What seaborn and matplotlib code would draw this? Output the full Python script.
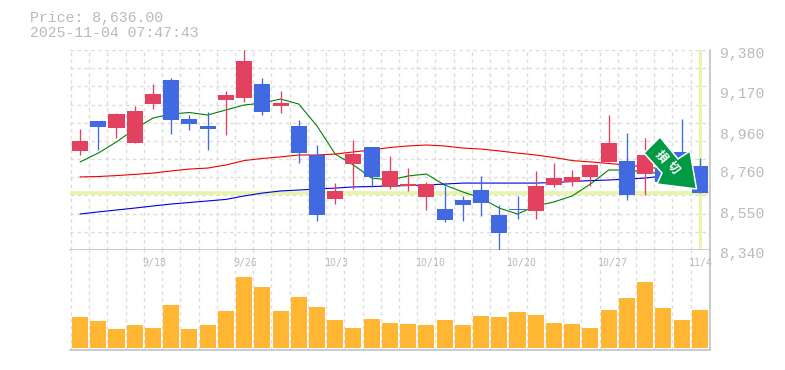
# -*- coding: utf-8 -*-
import matplotlib
matplotlib.use("Agg")
import matplotlib.pyplot as plt
from matplotlib.patches import Polygon
from matplotlib.transforms import Affine2D, ScaledTranslation
import seaborn as sns
import pandas as pd
import numpy as np

sns.set_theme(style="white")
plt.rcParams['font.family'] = ['Liberation Mono', 'Noto Sans CJK JP', 'DejaVu Sans']

title_price = "Price: 8,636.00"
title_time = "2025-11-04 07:47:43"

opens = [8855, 9011, 8974, 8896, 9099, 9224, 9021, 8985, 9120, 9130, 9203, 9089,
         8985, 8834, 8605, 8787, 8876, 8668, 8673, 8616, 8553, 8600, 8652, 8522,
         8553, 8543, 8678, 8694, 8720, 8798, 8803, 8735, 8766, 8850, 8777]
closes = [8907, 8980, 9047, 9063, 9151, 9016, 8995, 8969, 9146, 9323, 9058, 9104,
          8844, 8522, 8647, 8839, 8720, 8751, 8683, 8683, 8496, 8574, 8584, 8428,
          8548, 8673, 8714, 8720, 8782, 8896, 8626, 8834, 8694, 8730, 8636]
highs = [8969, 9011, 9052, 9089, 9203, 9234, 9042, 9058, 9167, 9380, 9234, 9167,
         9016, 8886, 8688, 8912, 8876, 8829, 8766, 8694, 8673, 8621, 8725, 8574,
         8621, 8751, 8792, 8756, 8787, 9042, 8948, 8922, 8780, 9021, 8818]
lows = [8834, 8860, 8922, 8896, 9073, 8943, 8964, 8860, 8938, 9110, 9042, 9052,
        8792, 8491, 8579, 8657, 8668, 8657, 8647, 8548, 8486, 8491, 8517, 8340,
        8501, 8501, 8668, 8673, 8673, 8798, 8600, 8626, 8694, 8678, 8636]

ma_short = [8798, 8844, 8902, 8969, 9026, 9047, 9055, 9042, 9068, 9094, 9104, 9125,
            9099, 8985, 8839, 8782, 8714, 8704, 8725, 8735, 8678, 8642, 8610, 8558,
            8527, 8569, 8590, 8621, 8683, 8756, 8756, 8746, 8735, 8730]
ma_mid = [8720, 8722, 8727, 8733, 8740, 8751, 8761, 8766, 8782, 8805, 8816, 8824,
          8834, 8834, 8839, 8850, 8860, 8873, 8881, 8886, 8881, 8870, 8865, 8855,
          8844, 8834, 8821, 8805, 8798, 8790, 8782, 8772, 8761]
ma_long = [8527, 8538, 8548, 8558, 8569, 8579, 8587, 8595, 8603, 8621, 8636, 8647,
           8652, 8657, 8662, 8668, 8670, 8673, 8675, 8678, 8683, 8688, 8688, 8688,
           8688, 8688, 8691, 8696, 8701, 8704, 8709, 8714, 8725]

volumes = [31, 27, 19, 23, 20, 43, 19, 23, 37, 71, 61, 37, 51, 41, 28, 20, 29, 25,
           24, 23, 28, 23, 32, 31, 36, 33, 25, 24, 20, 38, 50, 66, 40, 28, 38]

price_ticks = [9380, 9170, 8960, 8760, 8550, 8340]
price_labels = ["9,380", "9,170", "8,960", "8,760", "8,550", "8,340"]
date_pos = [4, 9, 14, 19, 24, 29, 34]
date_labels = ["9/18", "9/26", "10/3", "10/10", "10/20", "10/27", "11/4"]
last_price = 8636

W, H = 785, 370
GRAY = "#bababa"
LINE = "#c4c4c4"
GRID = "#dcdcdc"
RED = "#e2425f"
BLUE = "#4169e1"
LIME = "#e6f5a9"
ORANGE = "#ffb733"


def px_axes(left, top, right, bottom):
    return fig.add_axes([left / W, 1 - bottom / H, (right - left) / W, (bottom - top) / H])


fig = plt.figure(figsize=(W / 100, H / 100), dpi=100, facecolor="white")
ax = px_axes(70, 50, 710, 250)
vax = px_axes(70, 250, 710, 350)

n = len(opens)
df = pd.DataFrame({"i": np.arange(n), "open": opens, "close": closes, "high": highs,
                   "low": lows, "volume": volumes})
df["color"] = np.where(df["close"] >= df["open"], RED, BLUE)
x_lim = (-0.55, 34.56)
grid_x = np.arange(0, 36) - 0.5

# right hand price labels on a second axis so the grid stays independent
rax = ax.twinx()
rax.set_ylim(8340, 9380)
rax.set_yticks(price_ticks)
rax.set_yticklabels(price_labels, fontsize=10.6, color=GRAY)
rax.tick_params(right=False, pad=1.4)
rax.grid(False)
for s in rax.spines.values():
    s.set_visible(False)
shift = ScaledTranslation(0, -2.5 / 100, fig.dpi_scale_trans)
for lab in rax.get_yticklabels():
    lab.set_transform(lab.get_transform() + shift)

# price panel
ax.set_xlim(*x_lim)
ax.set_ylim(8340, 9380)
ax.set_xticks(grid_x[grid_x > x_lim[0]])
ax.set_yticks(np.linspace(8340, 9380, 12))
ax.grid(True, color=GRID, linestyle=(0, (2.5, 2.5)), linewidth=1)
ax.set_axisbelow(True)
ax.tick_params(left=False, bottom=False, labelleft=False, labelbottom=False)

ax.axhline(last_price, color=LIME, linewidth=2.6, zorder=1.5)
ax.axvline(34, ymin=0.01, ymax=1, color=LIME, linewidth=2.1, zorder=1.5)

sns.lineplot(x=np.arange(len(ma_short)), y=ma_short, color="#008000", linewidth=0.8, ax=ax, zorder=2)
sns.lineplot(x=np.arange(len(ma_mid)), y=ma_mid, color="#f00000", linewidth=0.8, ax=ax, zorder=2)
sns.lineplot(x=np.arange(len(ma_long)), y=ma_long, color="#0000e0", linewidth=0.8, ax=ax, zorder=2)
ax.set_xlabel("")
ax.set_ylabel("")

ax.vlines(df["i"], df["low"], df["high"], colors=df["color"], linewidth=0.95, zorder=3, clip_on=False)
ax.bar(df["i"], (df["close"] - df["open"]).abs(), bottom=df[["open", "close"]].min(axis=1),
       width=0.88, color=df["color"], linewidth=0, zorder=3)

for s in ("top", "left"):
    ax.spines[s].set_visible(False)
for s in ("bottom", "right"):
    ax.spines[s].set_color(LINE)
    ax.spines[s].set_linewidth(1.2)

# volume panel
sns.barplot(data=df, x="i", y="volume", color=ORANGE, width=0.88, saturation=1,
            native_scale=True, linewidth=0, ax=vax, zorder=3)
vax.set_xlim(*x_lim)
vax.set_ylim(-2, 98)
vax.set_xticks(grid_x[grid_x > x_lim[0]])
vax.set_yticks([])
vax.set_xlabel("")
vax.set_ylabel("")
vax.grid(True, axis="x", color=GRID, linestyle=(0, (2.5, 2.5)), linewidth=1)
vax.set_axisbelow(True)
vax.tick_params(left=False, bottom=False, labelleft=False, labelbottom=False)
for s in ("top", "left"):
    vax.spines[s].set_visible(False)
for s in ("bottom", "right"):
    vax.spines[s].set_color(LINE)
    vax.spines[s].set_linewidth(1.2)

for pos, lab in zip(date_pos, date_labels):
    vax.annotate(lab, xy=(pos, 1), xycoords=("data", "axes fraction"), xytext=(-7.9, -9.6),
                 textcoords="offset points", ha="left", va="center", fontsize=7.1,
                 color=GRAY, family=['DejaVu Sans Mono'], annotation_clip=False)

# header
fig.text(30 / W, 1 - 18 / H, title_price, fontsize=10.7, color=GRAY, ha="left", va="center")
fig.text(30 / W, 1 - 33 / H, title_time, fontsize=10.7, color=GRAY, ha="left", va="center")

# sell signal arrow, placed in image pixels
to_px = Affine2D().scale(1, -1).translate(0, H)
arrow_px = [(660, 137), (678, 159), (690, 151), (696.5, 189), (657, 184), (662, 173), (644, 153)]
fig.add_artist(Polygon(arrow_px, closed=True, facecolor="#009944", edgecolor="white",
                       linewidth=1.1, joinstyle="miter", transform=to_px, zorder=10))
for ch, (cx, cy) in zip(["損", "切"], [(661.5, 156.5), (673, 167.5)]):
    fig.text(cx / W, 1 - cy / H, ch, fontsize=8.6, fontweight="bold", color="white", rotation=-50,
             ha="center", va="center", rotation_mode="anchor", zorder=11,
             family=['Noto Sans CJK JP'])

fig.savefig("out.png", dpi=100)
